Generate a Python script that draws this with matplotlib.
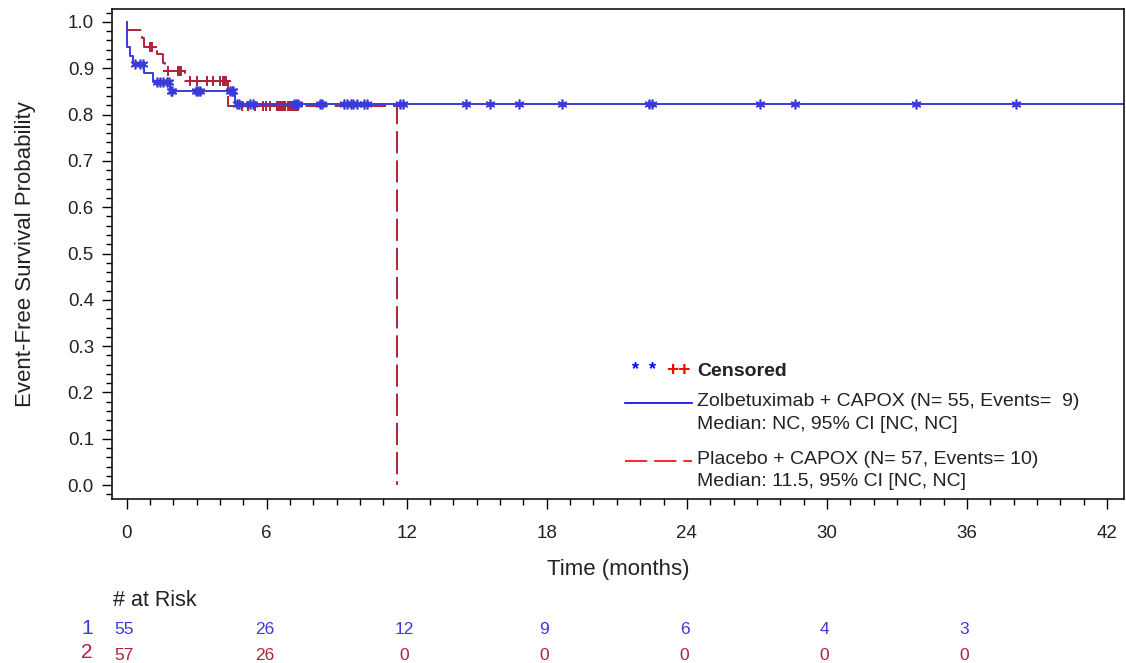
import numpy as np
import matplotlib
matplotlib.use('Agg')
import matplotlib.pyplot as plt
from matplotlib.ticker import MultipleLocator
from matplotlib.transforms import blended_transform_factory

plt.rcParams['font.family'] = ['Liberation Sans', 'DejaVu Sans']
plt.rcParams['lines.scale_dashes'] = False

# Zolbetuximab + CAPOX: step times (months) and survival after each step
zol_times = [0.0, 0.02, 0.16, 0.25, 0.75, 1.14, 1.86, 4.62, 43.0]
zol_surv = [1.0, 0.945, 0.927, 0.909, 0.889, 0.870, 0.850, 0.823, 0.823]
zol_censor = [0.36, 0.57, 0.70, 1.28, 1.43, 1.57, 1.71, 1.80, 1.90, 1.95,
              2.98, 3.07, 3.15, 4.42, 4.50, 4.56, 4.72, 4.80, 5.30, 5.42,
              7.15, 7.25, 7.35, 8.30, 8.35, 9.30, 9.45, 9.60, 9.70, 9.85,
              10.15, 10.30, 11.71, 11.85, 14.54, 15.57, 16.81, 18.65,
              22.38, 22.50, 27.14, 28.63, 33.82, 38.10]

# Placebo + CAPOX
pla_times = [0.0, 0.02, 0.64, 0.74, 1.30, 1.55, 1.65, 2.50, 4.35, 11.56]
pla_surv = [1.0, 0.982, 0.965, 0.947, 0.930, 0.912, 0.895, 0.873, 0.819, 0.0]
pla_censor = [1.00, 1.05, 1.10, 1.78, 2.18, 2.23, 2.28, 2.33, 2.71, 3.00,
              3.43, 3.71, 3.98, 4.12, 4.16, 4.20, 4.25, 4.95, 5.21, 5.50,
              5.85, 5.95, 6.14, 6.45, 6.50, 6.55, 6.60, 6.65, 6.70, 6.75,
              6.80, 6.92, 6.97, 7.02, 7.07, 7.12, 7.17, 7.22, 7.28, 7.35,
              6.48, 6.58, 6.68, 6.78, 7.05, 7.15, 7.25]

risk_times = [0, 6, 12, 18, 24, 30, 36]
risk_zol = [55, 26, 12, 9, 6, 4, 3]
risk_pla = [57, 26, 0, 0, 0, 0, 0]

zol_label = 'Zolbetuximab + CAPOX (N= 55, Events=  9)'
zol_median = 'Median: NC, 95% CI [NC, NC]'
pla_label = 'Placebo + CAPOX (N= 57, Events= 10)'
pla_median = 'Median: 11.5, 95% CI [NC, NC]'

blue = '#3a3ad8'
red = '#b2213a'
txt = '#222222'
dash = (0, (16, 5))


def at_level(times, surv, c):
    i = np.searchsorted(times, c, side='right') - 1
    return np.array(surv)[i]


fig = plt.figure(figsize=(11.26, 6.63), dpi=100)
ax = fig.add_axes([112/1126, (663-499)/663, (1124-112)/1126, (499-9)/663])

ax.step(pla_times, pla_surv, where='post', color=red, lw=1.4, linestyle=dash)
ax.plot(pla_censor, at_level(pla_times, pla_surv, pla_censor), '+', color=red,
        ms=7, mew=1.4, linestyle='none')
ax.step(zol_times, zol_surv, where='post', color=blue, lw=1.4)
ax.plot(zol_censor, at_level(zol_times, zol_surv, zol_censor), marker=(6, 2, 0),
        color=blue, ms=7, mew=1.2, linestyle='none')

ax.set_xlim(-0.63, 42.73)
ax.set_ylim(-0.030, 1.028)
ax.xaxis.set_major_locator(MultipleLocator(6))
ax.xaxis.set_minor_locator(MultipleLocator(1))
ax.yaxis.set_major_locator(MultipleLocator(0.1))
ax.yaxis.set_minor_locator(MultipleLocator(0.02))
ax.yaxis.set_major_formatter(plt.FormatStrFormatter('%.1f'))
ax.tick_params(which='major', length=7, width=1, labelsize=13.5, labelcolor=txt)
ax.tick_params(axis='y', which='major', pad=6)
ax.tick_params(axis='x', which='major', length=7.5, pad=11)
ax.tick_params(which='minor', length=4, width=1)
for s in ax.spines.values():
    s.set_linewidth(1.1)

ax.set_xlabel('Time (months)', fontsize=16, color=txt)
ax.xaxis.set_label_coords(0.5, -0.122)
ax.set_ylabel('Event-Free Survival Probability', fontsize=16, color=txt)
ax.yaxis.set_label_coords(-0.075, 0.5)

# legend drawn by hand, in axes coordinates
ta = ax.transAxes
ax.text(0.514, 0.262, '*  *', color='#0000ff', fontsize=13, fontweight='bold',
        transform=ta, va='center')
ax.text(0.548, 0.262, '++', color='#ff0000', fontsize=15, fontweight='bold',
        transform=ta, va='center')
ax.text(0.578, 0.260, 'Censored', color=txt, fontsize=14, fontweight='bold',
        transform=ta, va='center')
ax.plot([0.507, 0.573], [0.196, 0.196], color='#0000ff', lw=1.2, transform=ta)
ax.text(0.578, 0.200, zol_label, color=txt, fontsize=14, transform=ta, va='center')
ax.text(0.578, 0.153, zol_median, color=txt, fontsize=14, transform=ta, va='center')
ax.plot([0.507, 0.573], [0.078, 0.078], color='#ff0000', lw=1.2, linestyle=dash,
        transform=ta)
ax.text(0.578, 0.080, pla_label, color=txt, fontsize=14, transform=ta, va='center')
ax.text(0.578, 0.035, pla_median, color=txt, fontsize=14, transform=ta, va='center')

# numbers at risk
tr = blended_transform_factory(ax.transData, fig.transFigure)
fig.text(113/1126, 1 - 601/663, '# at Risk', fontsize=15.5, color=txt, va='center')
fig.text(87/1126, 1 - 629/663, '1', fontsize=15, color=blue, va='center', ha='center')
fig.text(87/1126, 1 - 653/663, '2', fontsize=15, color=red, va='center', ha='center')
for t, a, b in zip(risk_times, risk_zol, risk_pla):
    ax.text(t - 0.1, 1 - 630/663, str(a), color=blue, fontsize=12.5, ha='center',
            va='center', transform=tr)
    ax.text(t - 0.1, 1 - 655/663, str(b), color=red, fontsize=12.5, ha='center',
            va='center', transform=tr)

fig.savefig('out.png', dpi=100)
